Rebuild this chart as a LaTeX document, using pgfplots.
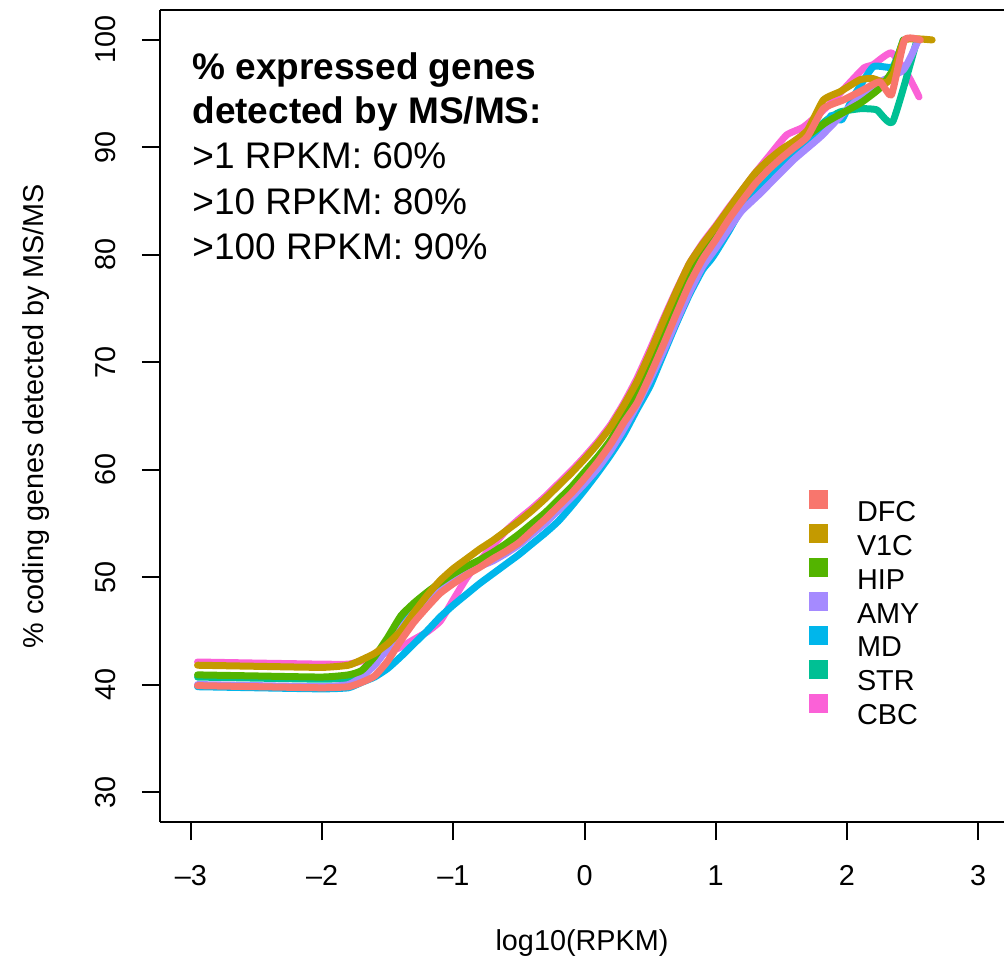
\documentclass[border=0pt]{standalone}
\usepackage{pgfplots}
\pgfplotsset{compat=1.18}
\usepackage{fontspec}
\setmainfont{Liberation Sans}
\definecolor{cDFC}{HTML}{F8766D}
\definecolor{cV1C}{HTML}{C49A00}
\definecolor{cHIP}{HTML}{53B400}
\definecolor{cAMY}{HTML}{A58AFF}
\definecolor{cMD}{HTML}{00B6EB}
\definecolor{cSTR}{HTML}{00C094}
\definecolor{cCBC}{HTML}{FB61D7}
\begin{document}
\begin{tikzpicture}
\begin{axis}[
  scale only axis, width=422pt, height=406pt,
  xmin=-3.2363, xmax=3.198, ymin=27.207, ymax=102.79,
  axis x line*=box, axis y line*=left,
  axis line style={-, line width=1pt, black},
  xtick pos=left, ytick pos=left,
  tick align=outside, major tick length=9pt,
  tick style={line width=1pt, black},
  xtick={-3,-2,-1,0,1,2,3},
  xticklabels={–3,–2,–1,0,1,2,3},
  ytick={30,40,50,60,70,80,90,100},
  yticklabels={30,40,50,60,70,80,90,100},
  ticklabel style={font=\fontsize{14.4}{17}\selectfont},
  xticklabel style={anchor=north, inner sep=0pt},
  yticklabel style={rotate=90, anchor=south, inner sep=0pt},
  xticklabel shift=12.5pt,
  yticklabel shift=13pt,
  xlabel={log10(RPKM)},
  ylabel={\% coding genes detected by MS/MS},
  label style={font=\fontsize{14.4}{17}\selectfont, inner sep=0pt},
  xlabel style={at={([yshift=-64pt]axis description cs:0.5,0)}, anchor=base},
  ylabel style={at={([xshift=-58pt]axis description cs:0,0.5)}, anchor=base},
  clip=false,
  reverse legend,
  legend cell align=left,
  legend image code/.code={\fill[#1, draw=none] (0pt,0.5pt) rectangle (9.5pt,10pt);},
  legend style={at={(axis cs:1.7114,58.08)}, anchor=north west, draw=none, fill=none,
    inner sep=0pt, outer sep=0pt, row sep=1.45pt, column sep=14.5pt,
    font=\fontsize{14.4}{17}\selectfont,
    nodes={inner sep=0pt, text height=11pt, text depth=0pt}},
  every axis plot/.append style={line width=3.5pt, line cap=round, line join=round, smooth, tension=0.3},
]
\coordinate (O) at (rel axis cs:0,0);
% CBC
\addplot[color=cCBC] coordinates {
(-2.95,42.1)(-2.5,42.0)(-2.0,41.9)(-1.8,41.9)(-1.7,42.2)(-1.6,42.6)(-1.5,43.0)(-1.4,43.5)
(-1.3,44.2)(-1.2,44.9)(-1.1,45.9)(-1.0,47.9)(-0.9,49.9)(-0.8,51.5)(-0.7,52.9)(-0.6,54.3)
(-0.5,55.4)(-0.4,56.4)(-0.3,57.5)(-0.2,58.7)(-0.1,59.9)(0,61.2)(0.1,62.6)(0.2,64.2)
(0.3,66.2)(0.4,68.5)(0.5,71.2)(0.6,74.0)(0.7,76.7)(0.8,79.2)(0.9,81.1)(1.0,82.7)
(1.1,84.4)(1.2,86.0)(1.3,87.6)(1.4,89.1)(1.54,91.15)(1.67,91.9)(1.85,93.8)(2.02,96.0)
(2.13,97.4)(2.2,97.7)(2.34,98.8)(2.47,96.6)(2.55,94.7)};
\addlegendentry{CBC}
% STR
\addplot[color=cSTR] coordinates {
(-2.95,40.7)(-2.5,40.6)(-2.0,40.5)(-1.8,40.6)(-1.7,41.0)(-1.6,42.0)(-1.5,43.8)(-1.4,45.6)
(-1.3,47.0)(-1.2,48.2)(-1.1,49.1)(-1.0,49.9)(-0.9,50.6)(-0.8,51.3)(-0.7,52.0)(-0.6,52.8)
(-0.5,53.6)(-0.4,54.6)(-0.3,55.6)(-0.2,56.8)(-0.1,58.1)(0,59.5)(0.1,61.0)(0.2,62.7)
(0.3,64.8)(0.4,67.0)(0.5,69.6)(0.6,72.4)(0.7,75.2)(0.8,77.8)(0.9,80.0)(1.0,81.7)
(1.1,83.5)(1.2,85.2)(1.3,86.8)(1.4,88.0)(1.5,89.0)(1.6,90.0)(1.7,91.0)(1.846,92.55)
(1.948,93.3)(2.10,93.6)(2.227,93.5)(2.35,92.4)(2.53,99.8)};
\addlegendentry{STR}
% MD
\addplot[color=cMD] coordinates {
(-2.95,39.8)(-2.5,39.7)(-2.0,39.6)(-1.8,39.7)(-1.7,40.2)(-1.6,40.7)(-1.5,41.5)(-1.4,42.6)
(-1.3,43.8)(-1.2,45.0)(-1.1,46.3)(-1.0,47.4)(-0.9,48.4)(-0.8,49.4)(-0.7,50.3)(-0.6,51.2)
(-0.5,52.1)(-0.4,53.1)(-0.3,54.1)(-0.2,55.2)(-0.1,56.6)(0,58.1)(0.1,59.7)(0.2,61.4)
(0.3,63.3)(0.4,65.6)(0.5,67.8)(0.6,70.7)(0.7,73.6)(0.8,76.3)(0.9,78.6)(0.96,79.5)
(1.0,80.2)(1.1,82.2)(1.2,84.3)(1.338,86.2)(1.59,89.4)(1.80,91.6)(1.885,93.0)(1.96,92.55)
(2.05,94.7)(2.20,97.5)(2.35,97.5)(2.43,100)};
\addlegendentry{MD}
% AMY
\addplot[color=cAMY] coordinates {
(-2.95,40.0)(-2.5,39.9)(-2.0,39.8)(-1.8,40.0)(-1.7,40.7)(-1.6,41.8)(-1.5,43.4)(-1.4,45.2)
(-1.3,46.7)(-1.2,48.0)(-1.1,49.0)(-1.0,49.8)(-0.9,50.4)(-0.8,51.0)(-0.7,51.5)(-0.6,52.2)
(-0.5,53.0)(-0.4,54.0)(-0.3,55.0)(-0.2,56.2)(-0.1,57.4)(0,58.7)(0.1,60.1)(0.2,61.8)
(0.3,63.8)(0.4,66.0)(0.5,68.4)(0.6,71.0)(0.7,73.8)(0.8,76.5)(0.9,78.9)(1.0,80.6)
(1.1,82.4)(1.2,84.1)(1.338,85.7)(1.59,88.8)(1.8,91.0)(2.0,93.5)(2.2,95.8)(2.43,97.2)
(2.545,100)};
\addlegendentry{AMY}
% HIP
\addplot[color=cHIP] coordinates {
(-2.95,40.9)(-2.5,40.8)(-2.0,40.7)(-1.8,40.9)(-1.7,41.3)(-1.6,42.6)(-1.5,44.4)(-1.4,46.4)
(-1.3,47.6)(-1.2,48.6)(-1.1,49.5)(-1.0,50.3)(-0.9,51.0)(-0.8,51.6)(-0.7,52.3)(-0.6,53.1)
(-0.5,54.0)(-0.4,55.0)(-0.3,56.0)(-0.2,57.2)(-0.1,58.4)(0,59.8)(0.1,61.2)(0.2,62.8)
(0.3,65.0)(0.4,67.3)(0.5,70.0)(0.6,72.8)(0.7,75.6)(0.8,78.3)(0.9,80.4)(1.0,82.0)
(1.1,83.8)(1.2,85.5)(1.3,87.0)(1.4,88.2)(1.59,90.1)(1.85,92.4)(2.1,94.1)(2.25,95.5)
(2.35,97.2)(2.43,100)};
\addlegendentry{HIP}
% V1C
\addplot[color=cV1C] coordinates {
(-2.95,41.8)(-2.5,41.7)(-2.0,41.6)(-1.8,41.8)(-1.7,42.3)(-1.6,42.9)(-1.5,43.8)(-1.4,45.0)
(-1.3,46.7)(-1.2,48.3)(-1.1,49.7)(-1.0,50.8)(-0.9,51.7)(-0.8,52.6)(-0.7,53.4)(-0.6,54.3)
(-0.5,55.2)(-0.4,56.2)(-0.3,57.3)(-0.2,58.5)(-0.1,59.7)(0,61.0)(0.1,62.4)(0.2,64.0)
(0.3,66.0)(0.4,68.2)(0.5,70.9)(0.6,73.8)(0.7,76.6)(0.8,79.2)(0.9,81.0)(1.0,82.6)
(1.1,84.3)(1.2,86.0)(1.3,87.6)(1.4,88.8)(1.5,89.8)(1.6,90.6)(1.7,91.6)(1.82,94.4)
(1.95,95.2)(2.1,96.3)(2.2,96.4)(2.3,96.0)(2.36,97.0)(2.44,100)(2.65,100)};
\addlegendentry{V1C}
% DFC
\addplot[color=cDFC] coordinates {
(-2.95,39.9)(-2.5,39.8)(-2.0,39.7)(-1.8,39.8)(-1.7,40.2)(-1.6,40.8)(-1.5,42.2)(-1.4,44.1)
(-1.3,45.8)(-1.2,47.2)(-1.1,48.5)(-1.0,49.4)(-0.9,50.2)(-0.8,50.9)(-0.7,51.7)(-0.6,52.4)
(-0.5,53.2)(-0.4,54.3)(-0.3,55.4)(-0.2,56.6)(-0.1,57.8)(0,59.2)(0.1,60.7)(0.2,62.4)
(0.3,64.4)(0.4,66.2)(0.5,68.8)(0.6,71.6)(0.7,74.5)(0.8,77.3)(0.9,79.6)(1.0,81.4)
(1.1,83.3)(1.2,85.0)(1.3,86.6)(1.4,87.9)(1.5,89.0)(1.6,90.0)(1.7,91.0)(1.82,93.6)
(1.97,94.4)(2.1,95.2)(2.25,96.1)(2.34,94.9)(2.44,100)(2.56,100)};
\addlegendentry{DFC}
\node[anchor=base west, inner sep=0pt, font=\fontsize{18.5}{22}\selectfont\bfseries] at (axis cs:-2.992,96.28) {\% expressed genes};
\node[anchor=base west, inner sep=0pt, font=\fontsize{18.5}{22}\selectfont\bfseries] at (axis cs:-2.992,92.18) {detected by MS/MS:};
\node[anchor=base west, inner sep=0pt, font=\fontsize{18.5}{22}\selectfont] at (axis cs:-2.992,87.99) {>1 RPKM: 60\%};
\node[anchor=base west, inner sep=0pt, font=\fontsize{18.5}{22}\selectfont] at (axis cs:-2.992,83.80) {>10 RPKM: 80\%};
\node[anchor=base west, inner sep=0pt, font=\fontsize{18.5}{22}\selectfont] at (axis cs:-2.992,79.61) {>100 RPKM: 90\%};
\end{axis}
\pgfresetboundingbox
\path ([shift={(-80pt,-70pt)}]O) rectangle ([shift={(422pt,411pt)}]O);
\end{tikzpicture}
\end{document}
